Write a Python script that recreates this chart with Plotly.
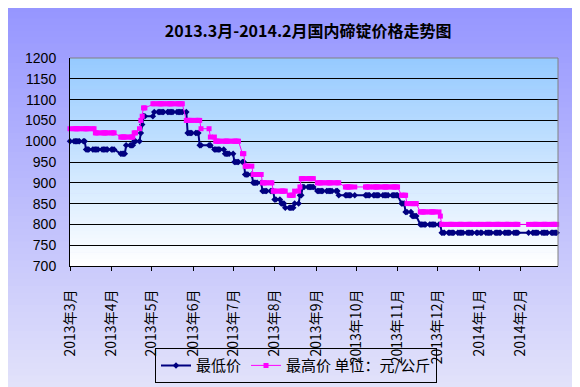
import plotly.graph_objects as go
import pandas as pd

# ---------------- data ----------------
title_text = "2013.3月-2014.2月国内碲锭价格走势图"
low_name = "最低价"
high_name = "最高价 单位：元/公斤"

tick_months = ["2013-03-01", "2013-04-01", "2013-05-01", "2013-06-01", "2013-07-01",
               "2013-08-01", "2013-09-01", "2013-10-01", "2013-11-01", "2013-12-01",
               "2014-01-01", "2014-02-01"]
tick_labels = ["2013年3月", "2013年4月", "2013年5月", "2013年6月", "2013年7月",
               "2013年8月", "2013年9月", "2013年10月", "2013年11月", "2013年12月",
               "2014年1月", "2014年2月"]

# market holidays (no quotes)
holidays = ["2013-04-04", "2013-04-05", "2013-04-29", "2013-04-30", "2013-05-01",
            "2013-06-10", "2013-06-11", "2013-06-12", "2013-09-19", "2013-09-20",
            "2013-10-01", "2013-10-02", "2013-10-03", "2013-10-04", "2013-10-07",
            "2014-01-01", "2014-01-31", "2014-02-03", "2014-02-04", "2014-02-05",
            "2014-02-06"]

# price quotes: date on which a new quote starts, and the quote (元/公斤)
low_change_dates = ["2013-03-01", "2013-03-13", "2013-04-08", "2013-04-12", "2013-04-18",
                    "2013-04-23", "2013-04-24", "2013-04-25", "2013-05-03", "2013-05-28",
                    "2013-06-06", "2013-06-17", "2013-06-25", "2013-07-02", "2013-07-10",
                    "2013-07-16", "2013-07-23", "2013-08-01", "2013-08-06", "2013-08-09",
                    "2013-08-16", "2013-08-20", "2013-08-22", "2013-09-02", "2013-09-18",
                    "2013-11-04", "2013-11-07", "2013-11-12", "2013-11-18", "2013-12-04"]
low_change_values = [1000, 980, 970, 990, 1000,
                     1020, 1040, 1060, 1070, 1020,
                     990, 980, 970, 950, 920,
                     900, 880, 860, 850, 840,
                     850, 870, 890, 880, 870,
                     850, 830, 820, 800, 780]

high_change_dates = ["2013-03-01", "2013-03-20", "2013-04-08", "2013-04-18", "2013-04-22",
                     "2013-04-23", "2013-04-24", "2013-04-25", "2013-05-02", "2013-05-27",
                     "2013-06-07", "2013-06-14", "2013-06-18", "2013-07-08", "2013-07-10",
                     "2013-07-16", "2013-07-23", "2013-07-31", "2013-08-12", "2013-08-16",
                     "2013-08-20", "2013-08-21", "2013-09-02", "2013-09-23", "2013-11-04",
                     "2013-11-08", "2013-11-18", "2013-12-03", "2013-12-04"]
high_change_values = [1030, 1020, 1010, 1020, 1030,
                      1050, 1060, 1080, 1090, 1050,
                      1030, 1010, 1000, 970, 940,
                      920, 900, 880, 870, 880,
                      890, 910, 900, 890, 870,
                      850, 830, 820, 800]

# trading days of the period
trading_days = pd.bdate_range("2013-03-01", "2014-02-28")
trading_days = trading_days[~trading_days.isin(pd.to_datetime(holidays))]


def quotes_on_trading_days(change_dates, change_values):
    s = pd.Series(change_values, index=pd.to_datetime(change_dates))
    return s.reindex(trading_days, method="ffill")


low_series = quotes_on_trading_days(low_change_dates, low_change_values)
high_series = quotes_on_trading_days(high_change_dates, high_change_values)

# ---------------- figure ----------------
W, H = 580, 387
ML, MR, MT, MB = 62, 30, 50, 122
pw, ph = W - ML - MR, H - MT - MB

fig = go.Figure()
fig.add_trace(go.Scatter(
    x=low_series.index, y=low_series.values, name=low_name,
    mode="lines+markers",
    line=dict(color="#000080", width=2),
    marker=dict(symbol="diamond", size=5, color="#000080"),
    cliponaxis=False,
))
fig.add_trace(go.Scatter(
    x=high_series.index, y=high_series.values, name=high_name,
    mode="lines+markers",
    line=dict(color="#FF00FF", width=1),
    marker=dict(symbol="square", size=5, color="#FF00FF"),
    cliponaxis=False,
))

shapes = []
# paper gradient
x0p, x1p = -ML / pw - 0.02, 1 + MR / pw + 0.02
y0p, y1p = -MB / ph - 0.02, 1 + MT / ph + 0.02
N = 60
top_c, bot_c = (150, 150, 255), (226, 226, 250)
for i in range(N):
    t = i / (N - 1)
    c = tuple(round(top_c[k] + (bot_c[k] - top_c[k]) * t) for k in range(3))
    ya = y1p - (y1p - y0p) * i / N
    yb = y1p - (y1p - y0p) * (i + 1) / N - 0.005
    shapes.append(dict(type="rect", xref="paper", yref="paper", x0=x0p, x1=x1p,
                       y0=yb, y1=ya, fillcolor="rgb(%d,%d,%d)" % c,
                       line=dict(width=0), layer="below"))
# plot area gradient
top_c, bot_c = (150, 202, 255), (255, 255, 255)
for i in range(N):
    t = i / (N - 1)
    c = tuple(round(top_c[k] + (bot_c[k] - top_c[k]) * t) for k in range(3))
    ya = 1 - i / N
    yb = max(0, 1 - (i + 1) / N - 0.003)
    shapes.append(dict(type="rect", xref="paper", yref="paper", x0=0, x1=1,
                       y0=yb, y1=ya, fillcolor="rgb(%d,%d,%d)" % c,
                       line=dict(width=0), layer="below"))
# top and right border (gray)
shapes.append(dict(type="line", xref="paper", yref="paper", x0=0, x1=1, y0=1, y1=1,
                   line=dict(color="#808080", width=1), layer="above"))
shapes.append(dict(type="line", xref="paper", yref="paper", x0=1, x1=1, y0=0, y1=1,
                   line=dict(color="#808080", width=1), layer="above"))

fig.update_layout(
    width=W, height=H,
    margin=dict(l=ML, r=MR, t=MT, b=MB),
    paper_bgcolor="#B8B8FC",
    plot_bgcolor="#FFFFFF",
    shapes=shapes,
    title=dict(text="<b>" + title_text + "</b>", x=(ML + pw / 2) / W - 0.01, xanchor="center",
               y=1 - 23 / H, yanchor="middle",
               font=dict(family="Noto Sans CJK SC", size=16, color="#000000")),
    font=dict(family="Noto Sans CJK SC", color="#000000"),
    showlegend=True,
    legend=dict(orientation="h", x=(147 - ML) / pw, xanchor="left",
                y=-(368 - (MT + ph)) / ph, yanchor="middle",
                bgcolor="rgba(0,0,0,0)", bordercolor="#000000", borderwidth=1,
                font=dict(family="Noto Sans CJK SC", size=15, color="#000000"),
                itemwidth=30, tracegroupgap=0),
)
fig.update_xaxes(
    type="date", range=["2013-03-01", "2014-03-01"],
    tickvals=tick_months, ticktext=tick_labels, tickangle=-90,
    ticks="outside", ticklen=4, tickcolor="#000000",
    showline=True, linecolor="#000000", linewidth=1,
    showgrid=False, zeroline=False,
    tickfont=dict(family="Noto Sans CJK SC", size=14, color="#000000"),
    ticklabelstandoff=13,
)
fig.update_yaxes(
    range=[700, 1200], dtick=50, tick0=700,
    showline=True, linecolor="#000000", linewidth=1,
    showgrid=True, gridcolor="#000000", gridwidth=1,
    zeroline=False, ticks="",
    tickfont=dict(family="Liberation Sans", size=14, color="#000000"),
    ticklabelstandoff=10,
)

fig.write_html("out.html")
